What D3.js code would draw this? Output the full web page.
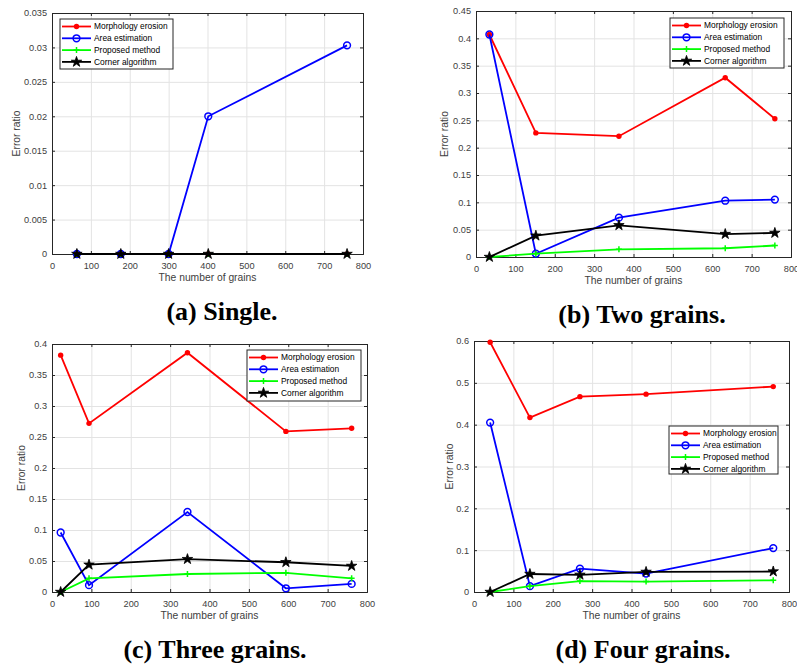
<!DOCTYPE html>
<html>
<head>
<meta charset="utf-8">
<script src="https://cdn.jsdelivr.net/npm/d3@7"></script>
<style>
  body { margin: 0; background: #fff; }
  svg { display: block; }
</style>
</head>
<body>
<div id="chart"></div>
<script>
// legend labels
const methods = ["Morphology erosion", "Area estimation", "Proposed method", "Corner algorithm"];
const xTicks = [0, 100, 200, 300, 400, 500, 600, 700, 800];

// (a) single grain
const aGrains = [64, 177, 300, 402, 759];
const aErosion = [0, 0, 0, 0, 0];
const aArea = [0, 0, 0, 0.02, 0.0303];
const aProposed = [0, 0, 0, 0, 0];
const aCorner = [0, 0, 0, 0, 0];
const aYTicks = [0, 0.005, 0.01, 0.015, 0.02, 0.025, 0.03, 0.035];

// (b) two grains
const bGrains = [34, 152, 363, 633, 759];
const bErosion = [0.407, 0.227, 0.221, 0.328, 0.253];
const bArea = [0.407, 0.006, 0.072, 0.103, 0.105];
const bProposed = [0, 0.006, 0.014, 0.016, 0.021];
const bCorner = [0, 0.039, 0.058, 0.042, 0.044];
const bYTicks = [0, 0.05, 0.1, 0.15, 0.2, 0.25, 0.3, 0.35, 0.4, 0.45];

// (c) three grains
const cGrains = [22, 94, 344, 594, 761];
const cErosion = [0.382, 0.272, 0.386, 0.259, 0.264];
const cArea = [0.096, 0.011, 0.129, 0.006, 0.013];
const cProposed = [0, 0.022, 0.029, 0.031, 0.022];
const cCorner = [0, 0.044, 0.053, 0.048, 0.042];
const cYTicks = [0, 0.05, 0.1, 0.15, 0.2, 0.25, 0.3, 0.35, 0.4];

// (d) four grains
const dGrains = [41, 142, 269, 437, 760];
const dErosion = [0.597, 0.417, 0.467, 0.473, 0.491];
const dArea = [0.405, 0.014, 0.056, 0.044, 0.105];
const dProposed = [0, 0.014, 0.026, 0.025, 0.028];
const dCorner = [0, 0.043, 0.041, 0.048, 0.049];
const dYTicks = [0, 0.1, 0.2, 0.3, 0.4, 0.5, 0.6];

const colors = ["#ff0000", "#0000ff", "#00ff00", "#000000"];
const sans = "'Liberation Sans', Arial, sans-serif";
const axisColor = "#262626";

const panels = [
  { grains: aGrains, series: [aErosion, aArea, aProposed, aCorner], yTicks: aYTicks,
    box: [52, 363, 13, 254], legend: [60, 19, 113, 50], title: "(a) Single.", titleX: 222, ylabelX: 16 },
  { grains: bGrains, series: [bErosion, bArea, bProposed, bCorner], yTicks: bYTicks,
    box: [476, 791, 11, 257], legend: [670, 18, 114, 50], title: "(b) Two grains.", titleX: 642, ylabelX: 444 },
  { grains: cGrains, series: [cErosion, cArea, cProposed, cCorner], yTicks: cYTicks,
    box: [52, 367, 344, 592], legend: [247, 350, 114, 51], title: "(c) Three grains.", titleX: 215, ylabelX: 21 },
  { grains: dGrains, series: [dErosion, dArea, dProposed, dCorner], yTicks: dYTicks,
    box: [474, 789, 341, 592], legend: [669, 426, 109, 48], title: "(d) Four grains.", titleX: 643, ylabelX: 449 }
];

const svg = d3.select("#chart").append("svg")
  .attr("width", 797)
  .attr("height", 668);

const yFmt = d => d === 0 ? "0" : String(+d.toFixed(3));

// draws one marker of a given method at (0,0) inside g
function drawMarker(g, i) {
  if (i === 0) {
    g.append("circle").attr("r", 2.7).attr("fill", colors[0]);
  } else if (i === 1) {
    g.append("circle").attr("r", 3.4).attr("fill", "none")
      .attr("stroke", colors[1]).attr("stroke-width", 1.5);
  } else if (i === 2) {
    g.append("path").attr("d", "M-3,0H3M0,-3V3")
      .attr("stroke", colors[2]).attr("stroke-width", 1.5);
  } else {
    g.append("path").attr("d", d3.symbol().type(d3.symbolStar).size(34)())
      .attr("fill", colors[3]).attr("stroke", colors[3]).attr("stroke-width", 0.8);
  }
}

panels.forEach(p => {
  const [x0, x1, y0, y1] = p.box;
  const x = d3.scaleLinear().domain([0, 800]).range([x0, x1]);
  const y = d3.scaleLinear().domain([0, d3.max(p.yTicks)]).range([y1, y0]);
  const g = svg.append("g");

  // grid
  g.append("g").attr("transform", `translate(0,${y1})`)
    .call(d3.axisBottom(x).tickValues(xTicks).tickSize(-(y1 - y0)).tickFormat(""))
    .call(s => s.select(".domain").remove())
    .selectAll("line").attr("stroke", "#e3e3e3");
  g.append("g").attr("transform", `translate(${x0},0)`)
    .call(d3.axisLeft(y).tickValues(p.yTicks).tickSize(-(x1 - x0)).tickFormat(""))
    .call(s => s.select(".domain").remove())
    .selectAll("line").attr("stroke", "#e3e3e3");

  // axes with inner ticks on all sides
  const bottom = g.append("g").attr("transform", `translate(0,${y1})`)
    .call(d3.axisBottom(x).tickValues(xTicks).tickSize(-3).tickPadding(8).tickFormat(d3.format("d")));
  const left = g.append("g").attr("transform", `translate(${x0},0)`)
    .call(d3.axisLeft(y).tickValues(p.yTicks).tickSize(-3).tickPadding(5).tickFormat(yFmt));
  const top = g.append("g").attr("transform", `translate(0,${y0})`)
    .call(d3.axisTop(x).tickValues(xTicks).tickSize(-3).tickFormat(""));
  const right = g.append("g").attr("transform", `translate(${x1},0)`)
    .call(d3.axisRight(y).tickValues(p.yTicks).tickSize(-3).tickFormat(""));
  [bottom, left, top, right].forEach(a => {
    a.selectAll("path, line").attr("stroke", axisColor);
    a.selectAll("text").attr("fill", "#404040").style("font-family", sans).style("font-size", "9.2px");
  });

  // series lines and markers
  p.series.forEach((vals, i) => {
    const pts = vals.map((v, k) => [p.grains[k], v]);
    g.append("path")
      .datum(pts)
      .attr("fill", "none")
      .attr("stroke", colors[i])
      .attr("stroke-width", 1.8)
      .attr("d", d3.line().x(d => x(d[0])).y(d => y(d[1])));
    pts.forEach(d => {
      const m = g.append("g").attr("transform", `translate(${x(d[0])},${y(d[1])})`);
      drawMarker(m, i);
    });
  });

  // axis labels
  g.append("text")
    .attr("x", (x0 + x1) / 2).attr("y", y1 + 27)
    .attr("text-anchor", "middle")
    .attr("fill", "#404040")
    .style("font-family", sans).style("font-size", "10.3px")
    .text("The number of grains");
  g.append("text")
    .attr("transform", `translate(${p.ylabelX + 3.5},${(y0 + y1) / 2}) rotate(-90)`)
    .attr("text-anchor", "middle")
    .attr("fill", "#404040")
    .style("font-family", sans).style("font-size", "10.3px")
    .text("Error ratio");

  // legend
  const [lx, ly, lw, lh] = p.legend;
  const leg = g.append("g").attr("transform", `translate(${lx},${ly})`);
  leg.append("rect").attr("width", lw).attr("height", lh)
    .attr("fill", "#fff").attr("stroke", axisColor).attr("stroke-width", 1);
  methods.forEach((name, i) => {
    const ry = 7.5 + i * 11.8;
    leg.append("line").attr("x1", 2).attr("x2", 31).attr("y1", ry).attr("y2", ry)
      .attr("stroke", colors[i]).attr("stroke-width", 1.8);
    drawMarker(leg.append("g").attr("transform", `translate(16.5,${ry})`), i);
    leg.append("text").attr("x", 34).attr("y", ry).attr("dy", "0.35em")
      .attr("fill", "#000")
      .style("font-family", sans).style("font-size", "8.4px")
      .text(name);
  });

  // caption
  g.append("text")
    .attr("x", p.titleX).attr("y", y1 + 66)
    .attr("text-anchor", "middle")
    .attr("fill", "#000")
    .style("font-family", "'Liberation Serif', 'Times New Roman', serif")
    .style("font-weight", "bold").style("font-size", "26px")
    .text(p.title);
});
</script>
</body>
</html>
